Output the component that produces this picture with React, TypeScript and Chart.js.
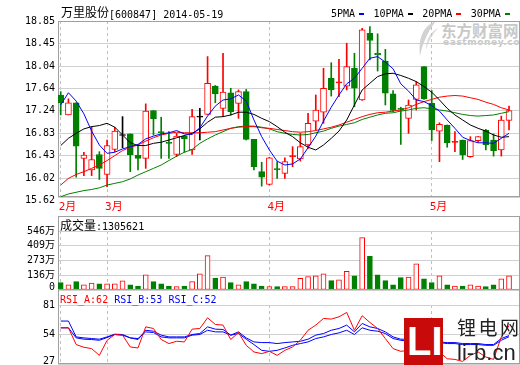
import React, { useEffect, useRef } from 'react';
import { Chart, registerables } from 'chart.js';

Chart.register(...registerables);

// ---------------- data ----------------
const MONTH_INDEX = [0, 6, 27, 48];
const MONTH_LABELS = ['2月', '3月', '4月', '5月'];

const OPEN = [17.52, 17.16, 17.38, 16.38, 16.17, 16.45, 16.09, 16.54, 16.80, 16.82,
  16.44, 16.38, 17.24, 16.86, 16.67, 16.45, 16.78, 16.53, 17.13, 17.17,
  17.68, 17.28, 17.56, 17.37, 17.58, 16.72, 16.14, 15.91, 16.19, 16.11,
  16.41, 16.37, 16.62, 17.05, 17.21, 17.82, 17.74, 17.68, 18.00, 17.43,
  18.63, 18.27, 18.13, 17.54, 17.28, 17.10, 17.44, 18.03, 17.37, 16.87,
  16.98, 16.67, 16.71, 16.41, 16.70, 16.89, 16.71, 16.53, 17.06];
const HIGH = [17.58, 17.45, 17.38, 16.49, 16.95, 16.50, 16.71, 16.94, 17.13, 16.82,
  16.62, 17.36, 17.24, 17.12, 16.86, 16.83, 16.79, 17.26, 17.28, 18.21,
  17.69, 18.27, 17.64, 17.61, 17.62, 16.72, 16.31, 16.40, 16.32, 16.39,
  16.59, 16.83, 17.19, 17.52, 18.00, 18.10, 18.16, 18.45, 18.27, 18.72,
  18.75, 18.62, 18.34, 17.60, 17.30, 17.43, 17.76, 18.03, 17.60, 17.02,
  16.98, 16.86, 16.71, 16.77, 16.77, 16.90, 16.82, 17.14, 17.32];
const LOW = [17.16, 17.16, 16.04, 16.07, 16.07, 16.00, 15.87, 16.50, 16.57, 16.14,
  16.17, 16.20, 16.80, 16.38, 16.38, 16.41, 16.49, 16.45, 16.71, 17.17,
  17.38, 17.14, 17.16, 17.10, 16.71, 16.17, 15.88, 15.90, 16.02, 16.02,
  16.23, 16.33, 16.56, 16.89, 17.01, 17.50, 17.49, 17.61, 17.31, 17.42,
  18.15, 17.95, 17.34, 17.22, 16.63, 16.83, 17.25, 17.44, 16.70, 16.32,
  16.58, 16.50, 16.36, 16.40, 16.67, 16.53, 16.42, 16.42, 16.89];
const CLOSE = [17.38, 17.38, 16.60, 16.44, 16.36, 16.20, 16.61, 16.87, 16.80, 16.44,
  16.38, 17.23, 17.09, 16.84, 16.65, 16.78, 16.73, 17.13, 17.13, 17.73,
  17.54, 17.57, 17.22, 17.58, 16.72, 16.23, 16.04, 16.39, 16.18, 16.32,
  16.43, 16.59, 17.01, 17.25, 17.64, 17.61, 17.75, 18.03, 17.64, 18.69,
  18.50, 18.24, 17.55, 17.24, 17.26, 17.34, 17.70, 17.45, 16.89, 16.99,
  16.66, 16.68, 16.44, 16.70, 16.77, 16.62, 16.52, 17.07, 17.24];

const MA5 = [17.34, 17.56, 17.41, 17.18, 16.87, 16.62, 16.47, 16.49, 16.55, 16.59,
  16.63, 16.73, 16.78, 16.82, 16.84, 16.88, 16.82, 16.81, 16.93, 17.14,
  17.32, 17.43, 17.45, 17.52, 17.41, 17.07, 16.77, 16.53, 16.33, 16.26,
  16.28, 16.37, 16.57, 16.78, 17.05, 17.30, 17.52, 17.72, 17.82, 18.00,
  18.18, 18.21, 18.11, 17.99, 17.72, 17.59, 17.43, 17.40, 17.33, 17.23,
  17.07, 16.92, 16.76, 16.70, 16.66, 16.66, 16.65, 16.74, 16.83];
const MA10 = [16.61, 16.74, 16.83, 16.91, 16.95, 16.97, 17.01, 16.94, 16.80, 16.66,
  16.61, 16.61, 16.65, 16.67, 16.71, 16.75, 16.79, 16.83, 16.91, 17.03,
  17.12, 17.13, 17.16, 17.21, 17.21, 17.17, 17.10, 17.04, 16.95, 16.85,
  16.77, 16.66, 16.58, 16.53, 16.62, 16.74, 16.87, 17.07, 17.34, 17.61,
  17.73, 17.85, 17.90, 17.91, 17.87, 17.82, 17.76, 17.67, 17.57, 17.43,
  17.28, 17.16, 17.07, 16.98, 16.92, 16.87, 16.80, 16.76, 16.77];
const MA20 = [15.90, 16.02, 16.09, 16.14, 16.20, 16.26, 16.34, 16.43, 16.52, 16.58,
  16.62, 16.69, 16.75, 16.80, 16.83, 16.85, 16.84, 16.84, 16.84, 16.85,
  16.86, 16.89, 16.92, 16.94, 16.95, 16.95, 16.93, 16.92, 16.90, 16.88,
  16.86, 16.85, 16.86, 16.88, 16.91, 16.94, 16.98, 17.03, 17.08, 17.13,
  17.17, 17.20, 17.21, 17.23, 17.25, 17.29, 17.35, 17.40, 17.44, 17.48,
  17.50, 17.51, 17.50, 17.47, 17.44, 17.39, 17.35, 17.29, 17.25];
const MA30 = [15.69, 15.74, 15.77, 15.80, 15.82, 15.85, 15.90, 15.93, 15.96, 16.01,
  16.08, 16.14, 16.20, 16.26, 16.34, 16.42, 16.49, 16.54, 16.65, 16.73,
  16.80, 16.86, 16.92, 16.95, 16.96, 16.96, 16.94, 16.91, 16.86, 16.83,
  16.81, 16.80, 16.81, 16.84, 16.87, 16.92, 16.96, 16.99, 17.02, 17.08,
  17.12, 17.16, 17.19, 17.20, 17.23, 17.25, 17.28, 17.29, 17.27, 17.25,
  17.23, 17.20, 17.17, 17.15, 17.14, 17.15, 17.16, 17.19, 17.22];

// volume in 万
const VOLUME = [68, 47, 78, 47, 63, 56, 56, 56, 84, 47,
  37, 140, 78, 56, 37, 31, 37, 78, 150, 318,
  109, 119, 68, 47, 78, 56, 37, 31, 31, 31,
  31, 109, 125, 131, 150, 87, 94, 172, 131, 484,
  312, 140, 87, 47, 115, 119, 243, 103, 68, 131,
  47, 37, 37, 47, 37, 31, 47, 103, 130.6];

const RSI_A = [60.1, 60.1, 44.8, 42.3, 41.1, 34.9, 48.7, 54.0, 53.4, 42.6,
  41.7, 61.0, 59.5, 49.4, 45.7, 47.8, 47.2, 58.9, 59.5, 69.3,
  63.2, 62.6, 49.4, 55.8, 44.1, 38.0, 36.5, 38.6, 34.9, 39.5,
  42.6, 48.7, 57.9, 62.6, 68.7, 68.1, 70.2, 74.2, 57.9, 71.2,
  65.0, 59.5, 50.3, 41.1, 38.6, 39.5, 47.2, 39.5, 33.4, 38.0,
  31.8, 31.2, 29.4, 34.9, 38.0, 33.4, 31.2, 51.8, 62.0];
const RSI_B = [66.3, 66.3, 51.8, 50.9, 50.3, 49.7, 51.8, 54.3, 54.0, 50.9,
  49.4, 57.9, 57.0, 53.4, 51.8, 51.8, 51.8, 54.0, 54.9, 61.0,
  58.9, 58.6, 53.4, 56.4, 50.9, 47.2, 46.6, 46.6, 45.7, 46.6,
  47.2, 47.8, 49.7, 53.4, 54.9, 57.9, 59.5, 62.6, 56.4, 64.1,
  61.0, 59.5, 56.4, 51.8, 49.7, 49.7, 50.9, 49.7, 47.8, 47.2,
  46.6, 46.6, 45.7, 45.7, 45.7, 44.8, 44.8, 50.3, 53.0];
const RSI_C = [60.1, 60.1, 50.9, 49.7, 49.4, 48.7, 51.2, 54.0, 53.4, 50.9,
  50.3, 56.4, 55.8, 51.8, 50.9, 50.9, 50.9, 53.4, 54.0, 57.9,
  56.4, 56.4, 53.4, 54.9, 49.7, 44.8, 39.5, 38.6, 39.5, 41.7,
  44.1, 45.7, 47.2, 50.3, 51.8, 54.0, 55.5, 57.9, 54.0, 60.1,
  57.9, 57.0, 54.9, 50.3, 48.7, 47.8, 48.7, 47.8, 46.6, 46.6,
  45.7, 45.7, 44.8, 44.8, 44.8, 44.1, 44.1, 48.7, 52.0];

const PRICE_TICKS = ['18.85', '18.45', '18.04', '17.64', '17.24', '16.83', '16.43', '16.02', '15.62'];
const VOLUME_TICK_VALUES = [546, 409.5, 273, 136.5, 0];
const VOLUME_TICK_LABELS = ['546万', '409万', '273万', '136万', '0'];
const RSI_TICKS = [81, 54, 27];

const TITLE_NAME = '万里股份';
const TITLE_CODE = '[600847] 2014-05-19';
const LEGEND_LABELS = ['5PMA', '10PMA', '20PMA', '30PMA'];
const VOLUME_TITLE = '成交量';
const VOLUME_LAST = 1305621;
const RSI_NAMES = ['RSI_A', 'RSI_B', 'RSI_C'];
const RSI_LAST = [62, 53, 52];

// ---------------- styles ----------------
const RED = '#ff0000';
const GREEN = '#008000';
const BLACK = '#000000';
const BLUE = '#0000ff';
const GRID = '#d0d0d0';
const DASH = '#c0c0c0';
const FRAME = '#a0a0a0';
const MONO = "'DejaVu Sans Mono', 'Noto Sans CJK SC', monospace";
const CJK = "'Noto Sans CJK SC', sans-serif";

const N = CLOSE.length;
const IDX = Array.from({ length: N }, (_, i) => i);
const X_MIN = -0.35;
const X_MAX = 59.42;
const PRICE_MIN = 15.685;
const PRICE_MAX = 18.85;

const candleColor = (i: number) => (CLOSE[i] > OPEN[i] ? RED : CLOSE[i] < OPEN[i] ? GREEN : BLACK);
const isUp = (i: number) => CLOSE[i] >= OPEN[i];
const DOJI_HALF = 0.009;
function bodyRange(i: number): [number, number] {
  const lo = Math.min(OPEN[i], CLOSE[i]);
  const hi = Math.max(OPEN[i], CLOSE[i]);
  if (hi - lo < 2 * DOJI_HALF) {
    const m = (lo + hi) / 2;
    return [m - DOJI_HALF, m + DOJI_HALF];
  }
  return [lo, hi];
}
function bodyFill(i: number) {
  const thin = Math.abs(CLOSE[i] - OPEN[i]) < 0.04;
  return CLOSE[i] > OPEN[i] && !thin ? '#ffffff' : candleColor(i);
}

const framePlugin = {
  id: 'frame',
  beforeDatasetsDraw(chart: any, _args: any, opts: any) {
    const { ctx, chartArea } = chart;
    const top = opts && typeof opts.top === 'number' ? opts.top : chartArea.top;
    ctx.save();
    ctx.strokeStyle = FRAME;
    ctx.lineWidth = 1;
    const l = Math.floor(chartArea.left) + 0.5;
    const r = Math.ceil(chartArea.right) - 0.5;
    const t = Math.floor(top) + 0.5;
    const b = Math.ceil(chartArea.bottom) - 0.5;
    ctx.strokeRect(l, t, r - l, b - t);
    ctx.restore();
  },
};

const zeroPadding = (axis: any) => {
  axis.paddingTop = 0;
  axis.paddingBottom = 0;
  axis.paddingLeft = 0;
  axis.paddingRight = 0;
};

function xScale(showLabels: boolean) {
  return {
    type: 'linear',
    position: 'bottom',
    min: X_MIN,
    max: X_MAX,
    offset: false,
    bounds: 'data',
    afterBuildTicks: (axis: any) => {
      axis.ticks = MONTH_INDEX.map((v) => ({ value: v }));
    },
    afterFit: (axis: any) => {
      axis.height = showLabels ? 20 : 0;
      zeroPadding(axis);
    },
    grid: { color: DASH, lineWidth: 1, drawTicks: false, offset: false },
    border: { display: false, dash: [3, 3] },
    ticks: {
      display: showLabels,
      autoSkip: false,
      maxRotation: 0,
      minRotation: 0,
      align: 'start',
      labelOffset: -2,
      padding: 4,
      color: RED,
      font: { family: MONO, size: 11 },
      callback: (_v: number, i: number) => MONTH_LABELS[i],
    },
  };
}

function yScale(min: number, max: number, values: number[], labels: string[]) {
  return {
    type: 'linear',
    position: 'left',
    min,
    max,
    bounds: 'data',
    afterBuildTicks: (axis: any) => {
      axis.ticks = values.map((v) => ({ value: Math.min(Math.max(v, min), max) }));
    },
    afterFit: (axis: any) => {
      axis.width = 58;
      zeroPadding(axis);
    },
    grid: { color: GRID, lineWidth: 1, drawTicks: false },
    border: { display: false },
    ticks: {
      autoSkip: false,
      padding: 3,
      color: BLACK,
      font: { family: MONO, size: 10, lineHeight: 0.6 },
      callback: (_v: number, i: number) => {
        const lbl = labels[i];
        if (values[i] < min) return ['', lbl];
        if (i === values.length - 1) return [lbl, ''];
        return lbl;
      },
    },
  };
}

const baseOptions = (padding: any, frameTop?: number) => ({
  responsive: false,
  animation: false,
  devicePixelRatio: 1,
  events: [],
  layout: { padding, autoPadding: false },
  plugins: {
    legend: { display: false },
    tooltip: { enabled: false },
    frame: frameTop === undefined ? {} : { top: frameTop },
  },
});

const line = (data: number[], color: string, order: number) => ({
  type: 'line',
  data: data.map((v, i) => ({ x: i, y: v })),
  borderColor: color,
  borderWidth: 1,
  pointRadius: 0,
  tension: 0,
  order,
});

function mainConfig(): any {
  return {
    type: 'bar',
    plugins: [framePlugin],
    data: {
      datasets: [
        line(MA5, BLUE, 0),
        line(MA10, BLACK, 1),
        line(MA20, RED, 2),
        line(MA30, GREEN, 3),
        {
          type: 'bar',
          data: IDX.map((i) => ({ x: i, y: bodyRange(i) })),
          backgroundColor: IDX.map(bodyFill),
          borderColor: IDX.map(candleColor),
          borderWidth: 1,
          borderSkipped: false,
          barThickness: 6,
          grouped: false,
          order: 4,
        },
        {
          type: 'bar',
          data: IDX.map((i) => ({ x: i, y: [LOW[i], HIGH[i]] })),
          backgroundColor: IDX.map(candleColor),
          borderWidth: 0,
          barThickness: 1,
          grouped: false,
          order: 5,
        },
      ],
    },
    options: {
      ...baseOptions({ left: 0, right: 0, top: 21, bottom: 148 }),
      scales: {
        x: xScale(true),
        y: yScale(PRICE_MIN, PRICE_MAX, PRICE_TICKS.map(parseFloat), PRICE_TICKS),
      },
    },
  };
}

function volumeConfig(): any {
  return {
    type: 'bar',
    plugins: [framePlugin],
    data: {
      datasets: [
        {
          type: 'bar',
          data: VOLUME.map((v, i) => ({ x: i, y: v })),
          backgroundColor: IDX.map((i) => (isUp(i) ? '#ffffff' : GREEN)),
          borderColor: IDX.map((i) => (isUp(i) ? RED : GREEN)),
          borderWidth: 1,
          borderSkipped: false,
          barThickness: 5,
          grouped: false,
        },
      ],
    },
    options: {
      ...baseOptions({ left: 0, right: 0, top: 231, bottom: 75 }, 216),
      scales: {
        x: xScale(false),
        y: yScale(0, 546, VOLUME_TICK_VALUES, VOLUME_TICK_LABELS),
      },
    },
  };
}

function rsiConfig(): any {
  return {
    type: 'line',
    plugins: [framePlugin],
    data: {
      datasets: [line(RSI_A, RED, 0), line(RSI_B, BLUE, 1), line(RSI_C, BLUE, 2)],
    },
    options: {
      ...baseOptions({ left: 0, right: 0, top: 305, bottom: 1 }, 289),
      scales: {
        x: xScale(false),
        y: yScale(27, 81, RSI_TICKS, RSI_TICKS.map(String)),
      },
    },
  };
}

const abs = (o: any): any => ({ position: 'absolute', whiteSpace: 'pre', margin: 0, ...o });
const canvasStyle: any = { position: 'absolute', left: 0, top: 0, width: 520, height: 365 };

const LEGEND_COLORS = [BLUE, BLACK, RED, GREEN];

export default function App() {
  const mainRef = useRef<HTMLCanvasElement>(null);
  const volRef = useRef<HTMLCanvasElement>(null);
  const rsiRef = useRef<HTMLCanvasElement>(null);

  useEffect(() => {
    const charts = [
      new Chart(mainRef.current as HTMLCanvasElement, mainConfig()),
      new Chart(volRef.current as HTMLCanvasElement, volumeConfig()),
      new Chart(rsiRef.current as HTMLCanvasElement, rsiConfig()),
    ];
    return () => charts.forEach((c) => c.destroy());
  }, []);

  let legendX = 331;
  const legendItems = LEGEND_LABELS.map((lbl, k) => {
    const left = legendX;
    const w = lbl.length * 6.02;
    legendX += w + 4 + 5 + 9.5;
    return (
      <React.Fragment key={lbl}>
        <div style={abs({ left, top: 9.2, font: `10px ${MONO}`, lineHeight: '10px', color: BLACK })}>{lbl}</div>
        <div style={abs({ left: left + w + 4, top: 13, width: 5, height: 2, background: LEGEND_COLORS[k] })} />
      </React.Fragment>
    );
  });

  return (
    <div style={abs({ left: 0, top: 0, width: 520, height: 365, background: '#ffffff', overflow: 'hidden' })}>
      {/* eastmoney watermark */}
      <svg style={abs({ left: 414, top: 20 })} width={26} height={38} viewBox="0 0 26 38">
        <path d="M22 1 C 10 6, 4 16, 6 36 C 8 26, 12 14, 22 1 Z" fill="#d2d2d2" />
        <path d="M24 8 C 16 12, 12 20, 12 30 C 14 22, 18 15, 24 8 Z" fill="#dcdcdc" />
      </svg>
      <div style={abs({ left: 441, top: 22.5, font: `bold 15.5px ${CJK}`, lineHeight: '15.5px', color: '#c8c8c8' })}>东方财富网</div>
      <div style={abs({ left: 443, top: 38, font: "bold 9px 'DejaVu Sans', sans-serif", lineHeight: '9px', letterSpacing: '0.6px', color: '#c8c8c8' })}>eastmoney.com</div>

      <canvas ref={mainRef} width={520} height={365} style={canvasStyle} />
      <canvas ref={volRef} width={520} height={365} style={canvasStyle} />
      <canvas ref={rsiRef} width={520} height={365} style={canvasStyle} />

      {/* title */}
      <div style={abs({ left: 61, top: 6.2, font: `12px ${CJK}`, lineHeight: '12px', color: BLACK })}>{TITLE_NAME}</div>
      <div style={abs({ left: 109, top: 10, font: `10px ${MONO}`, lineHeight: '10px', color: BLACK })}>{TITLE_CODE}</div>
      {legendItems}

      {/* volume header */}
      <div style={abs({ left: 60, top: 219.2, font: `12px ${CJK}`, lineHeight: '12px', color: BLACK })}>{VOLUME_TITLE}</div>
      <div style={abs({ left: 96, top: 221.5, font: `10px ${MONO}`, lineHeight: '10px', color: BLACK })}>{':' + VOLUME_LAST}</div>

      {/* RSI header */}
      <div style={abs({ left: 60, top: 295.2, font: `10px ${MONO}`, lineHeight: '10px' })}>
        <span style={{ color: RED }}>{`${RSI_NAMES[0]}:${RSI_LAST[0]}`}</span>
        <span>{' '}</span>
        <span style={{ color: BLUE }}>{`${RSI_NAMES[1]}:${RSI_LAST[1]}`}</span>
        <span>{' '}</span>
        <span style={{ color: BLUE }}>{`${RSI_NAMES[2]}:${RSI_LAST[2]}`}</span>
      </div>

      {/* li-b.cn logo */}
      <div style={abs({ left: 404, top: 318, width: 39, height: 47, background: '#c80a0a', overflow: 'hidden' })}>
        <div style={abs({ left: 3, top: 3, font: "bold 40px 'Liberation Sans', sans-serif", lineHeight: '40px', color: '#ffffff' })}>LI</div>
      </div>
      <div style={abs({ left: 457, top: 317, font: `19px ${CJK}`, lineHeight: '19px', letterSpacing: '2.5px', color: '#222222' })}>锂电网</div>
      <div style={abs({ left: 457, top: 342.4, font: "22px 'Liberation Sans', sans-serif", lineHeight: '22px', color: '#222222' })}>li-b.cn</div>
    </div>
  );
}
